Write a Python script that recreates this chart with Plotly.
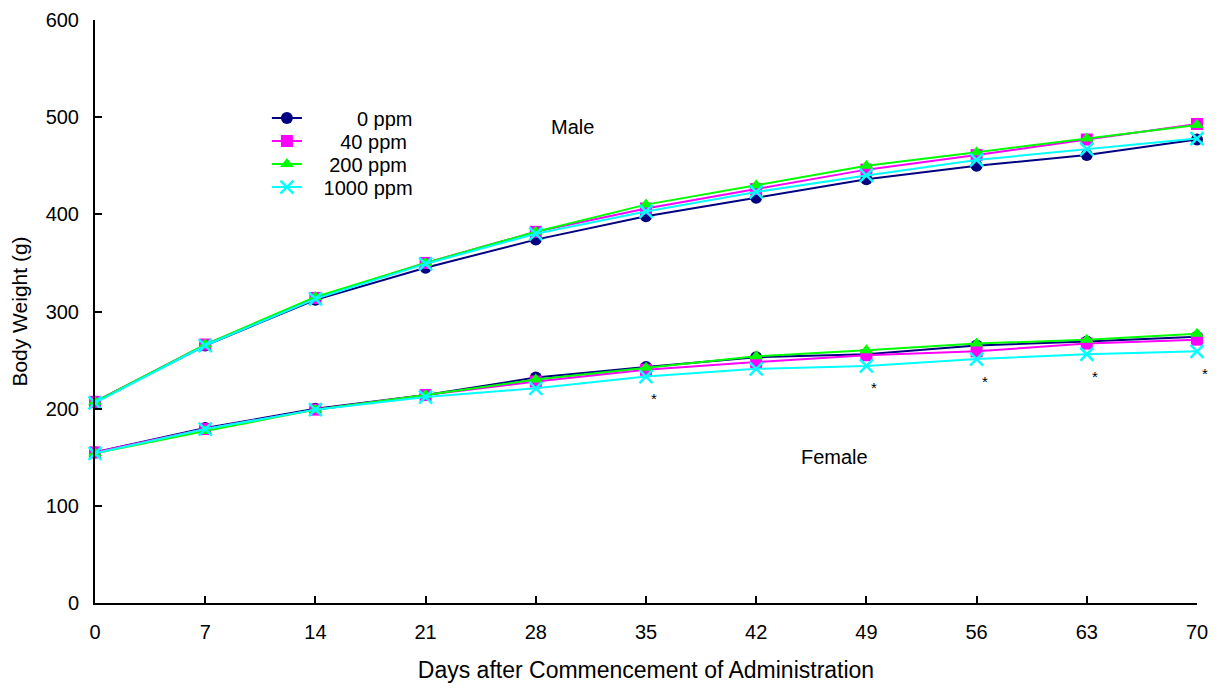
import plotly.graph_objects as go

days = [0, 7, 14, 21, 28, 35, 42, 49, 56, 63, 70]
doses = ["0 ppm", "40 ppm", "200 ppm", "1000 ppm"]
NB = "\u00a0"
legend_labels = [NB * 9 + "0 ppm", NB * 6 + "40 ppm", NB * 4 + "200 ppm", NB * 3 + "1000 ppm"]

male_0 = [207, 265, 312, 345, 374, 398, 417, 436, 450, 461, 477]
male_40 = [207, 266, 314, 350, 382, 406, 426, 446, 461, 477, 493]
male_200 = [207, 266, 315, 350, 382, 410, 430, 450, 464, 478, 492]
male_1000 = [206, 265, 313, 349, 380, 403, 423, 440, 456, 467, 478]

female_0 = [155, 180, 200, 214, 232, 243, 253, 256, 265, 269, 274]
female_40 = [155, 179, 199, 214, 228, 240, 248, 255, 259, 267, 271]
female_200 = [154, 177, 199, 214, 230, 242, 254, 260, 267, 271, 277]
female_1000 = [154, 179, 199, 212, 221, 233, 241, 244, 251, 256, 259]

sig_days = [35, 49, 56, 63, 70]  # days with significant difference (1000 ppm female)

colors = ["#000080", "#FF00FF", "#00FF00", "#00FFFF"]
symbols = ["circle", "square", "triangle-up", "x-thin-open"]
male = [male_0, male_40, male_200, male_1000]
female = [female_0, female_40, female_200, female_1000]
legend_ids = ["legend", "legend2", "legend3", "legend4"]
legend_y = [0.8319, 0.7925, 0.7530, 0.7135]

FONT = "Liberation Sans, Arial, Helvetica, sans-serif"

fig = go.Figure()
for i in range(4):
    mk = dict(symbol=symbols[i], size=12, color=colors[i])
    if symbols[i] == "x-thin-open":
        mk = dict(symbol=symbols[i], size=13, color=colors[i], line=dict(color=colors[i], width=2.5))
    fig.add_trace(go.Scatter(x=days, y=male[i], mode="lines+markers", name=legend_labels[i],
                             line=dict(color=colors[i], width=2), marker=mk, cliponaxis=False,
                             legendgroup=doses[i], showlegend=True, legend=legend_ids[i]))
    fig.add_trace(go.Scatter(x=days, y=female[i], mode="lines+markers", name=legend_labels[i],
                             line=dict(color=colors[i], width=2), marker=mk, cliponaxis=False,
                             legendgroup=doses[i], showlegend=False, legend=legend_ids[i]))

for d in sig_days:
    v = female_1000[days.index(d)]
    fig.add_annotation(x=d, y=v, text="*", showarrow=False, xshift=8, yshift=-22,
                       font=dict(size=15, color="black", family=FONT))

fig.add_annotation(x=30.3, y=490, text="Male", showarrow=False,
                   font=dict(size=20, color="black", family=FONT))
fig.add_annotation(x=46.95, y=150.5, text="Female", showarrow=False,
                   font=dict(size=20, color="black", family=FONT))

legend_common = dict(x=0.156, xanchor="left", yanchor="middle", bgcolor="rgba(0,0,0,0)",
                     font=dict(size=20, family=FONT, color="black"), tracegroupgap=0, itemwidth=30,
                     borderwidth=0)
layout_legends = {}
for lid, ly in zip(legend_ids, legend_y):
    layout_legends[lid] = dict(legend_common, y=ly)

fig.update_layout(
    width=1211, height=681,
    margin=dict(l=87, r=22, t=12, b=86, autoexpand=False),
    plot_bgcolor="white", paper_bgcolor="white",
    font=dict(family=FONT, size=20, color="black"),
    showlegend=True,
    xaxis=dict(range=[0, 70], tickvals=days, ticks="inside", ticklen=7, tickwidth=1.5,
               tickcolor="black", showline=True, linecolor="black", linewidth=2, automargin=False,
               showgrid=False, zeroline=False, tickfont=dict(size=20), ticklabelstandoff=10,
               title=dict(text="Days after Commencement of Administration", font=dict(size=23), standoff=20)),
    yaxis=dict(range=[0, 600], tickvals=[0, 100, 200, 300, 400, 500, 600], ticks="inside", ticklen=7,
               tickwidth=1.5, tickcolor="black", showline=True, linecolor="black", linewidth=2, automargin=False,
               showgrid=False, zeroline=False, tickfont=dict(size=20), ticklabelstandoff=10,
               title=dict(text="Body Weight (g)", font=dict(size=21), standoff=14)),
    **layout_legends,
)

fig.write_html("out.html")
